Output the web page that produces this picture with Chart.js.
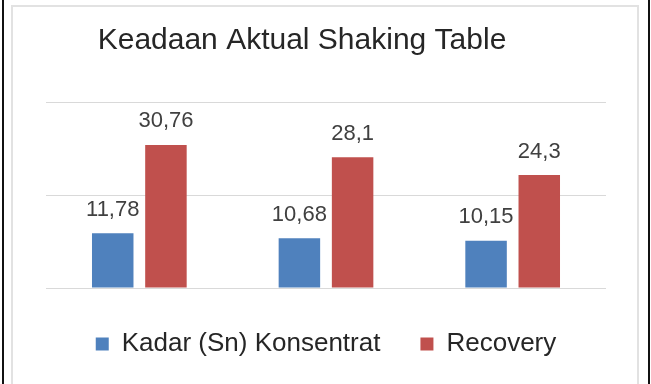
<!DOCTYPE html>
<html>
<head>
<meta charset="utf-8">
<script src="https://cdn.jsdelivr.net/npm/chart.js@4/dist/chart.umd.min.js"></script>
<style>
  html, body { margin: 0; padding: 0; background: #ffffff; overflow: hidden; width: 651px; height: 384px; }
  #chart { position: absolute; left: -2px; top: 0; }
  .line { position: absolute; z-index: 2; }
</style>
</head>
<body>
<canvas id="chart" width="608" height="367"></canvas>
<div class="line" style="left:2px;top:0;width:2px;height:384px;background:#111;"></div>
<div class="line" style="left:648px;top:0;width:2px;height:384px;background:#111;"></div>
<div class="line" style="left:11px;top:5px;width:628px;height:2px;background:#e2e2e2;"></div>
<div class="line" style="left:11px;top:5px;width:2px;height:379px;background:#e2e2e2;"></div>
<div class="line" style="left:637px;top:5px;width:2px;height:379px;background:#e2e2e2;"></div>
<script>
const categories = ["1", "2", "3"];
const seriesNames = ["Kadar (Sn) Konsentrat", "Recovery"];
const kadarValues = [11.78, 10.68, 10.15];
const recoveryValues = [30.76, 28.1, 24.3];
const yTicks = [0, 20, 40];

const barLabels = {
  id: 'barLabels',
  afterDatasetsDraw(chart) {
    const ctx = chart.ctx;
    ctx.save();
    ctx.font = '22px "Liberation Sans", Arial, sans-serif';
    ctx.fillStyle = '#404040';
    ctx.textAlign = 'center';
    ctx.textBaseline = 'alphabetic';
    chart.data.datasets.forEach((ds, di) => {
      const meta = chart.getDatasetMeta(di);
      meta.data.forEach((el, i) => {
        const txt = String(ds.data[i]).replace('.', ',');
        ctx.fillText(txt, el.x, el.y - 17.5);
      });
    });
    ctx.restore();
  }
};

new Chart(document.getElementById('chart'), {
  type: 'bar',
  data: {
    labels: categories,
    datasets: [
      { label: seriesNames[0], data: kadarValues, backgroundColor: '#4f81bd', barPercentage: 0.78, categoryPercentage: 0.57 },
      { label: seriesNames[1], data: recoveryValues, backgroundColor: '#c0504d', barPercentage: 0.78, categoryPercentage: 0.57 }
    ]
  },
  options: {
    responsive: false,
    animation: false,
    devicePixelRatio: 1,
    layout: { padding: 0 },
    plugins: {
      title: {
        display: true,
        text: 'Keadaan Aktual Shaking Table',
        color: '#262626',
        font: { family: '"Liberation Sans", Arial, sans-serif', size: 30, weight: 'normal' },
        padding: { top: 23, bottom: 43 }
      },
      legend: {
        position: 'bottom',
        fullSize: false,
        labels: {
          color: '#262626',
          font: { family: '"Liberation Sans", Arial, sans-serif', size: 26 },
          boxWidth: 13,
          boxHeight: 13,
          padding: 40
        }
      },
      tooltip: { enabled: false }
    },
    scales: {
      x: {
        display: true,
        ticks: { display: false },
        grid: { display: false },
        border: { display: false },
        afterFit: (s) => { s.height = 3; }
      },
      y: {
        min: yTicks[0],
        max: yTicks[yTicks.length - 1],
        afterBuildTicks: (s) => { s.ticks = yTicks.map(v => ({ value: v })); },
        ticks: { display: false },
        grid: { color: '#d9d9d9', lineWidth: 1, drawTicks: false },
        border: { display: false },
        afterFit: (s) => { s.width = 48; }
      }
    }
  },
  plugins: [barLabels]
});
</script>
</body>
</html>
